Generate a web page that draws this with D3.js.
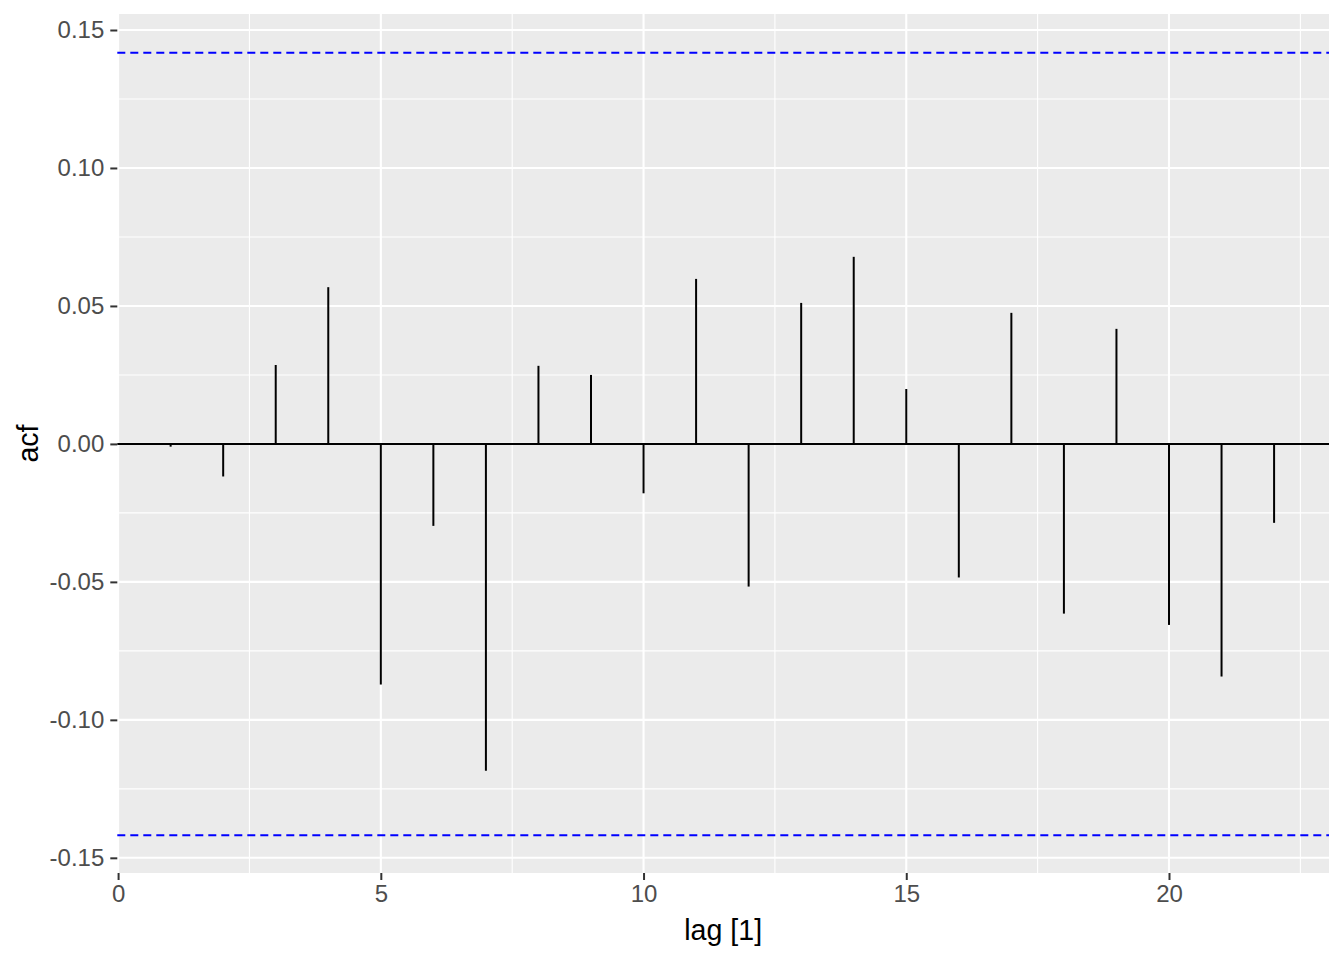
<!DOCTYPE html>
<html>
<head>
<meta charset="utf-8">
<script src="https://cdn.jsdelivr.net/npm/d3@7"></script>
<style>
  html, body { margin: 0; padding: 0; background: #ffffff; }
  svg { display: block; font-family: "Liberation Sans", Arial, sans-serif; }
</style>
</head>
<body>
<svg id="chart" width="1344" height="960"></svg>
<script>
// ---- data ----
const lags = [1, 2, 3, 4, 5, 6, 7, 8, 9, 10, 11, 12, 13, 14, 15, 16, 17, 18, 19, 20, 21, 22];
const acfValues = [-0.001, -0.0118, 0.0286, 0.0568, -0.0872, -0.0297, -0.1184, 0.0283, 0.0250, -0.0179,
                   0.0598, -0.0517, 0.0511, 0.0678, 0.0199, -0.0484, 0.0475, -0.0615, 0.0417, -0.0656,
                   -0.0843, -0.0286];
const ciBound = 0.1418;
const xTicks = [0, 5, 10, 15, 20];
const xMinor = [2.5, 7.5, 12.5, 17.5, 22.5];
const yTicks = [-0.15, -0.10, -0.05, 0.00, 0.05, 0.10, 0.15];
const yMinor = [-0.125, -0.075, -0.025, 0.025, 0.075, 0.125];
const xTitle = "lag [1]";
const yTitle = "acf";

// ---- layout ----
const svg = d3.select("#chart");
const panel = { left: 117.3, right: 1329, top: 14, bottom: 873 };

const x = d3.scaleLinear().domain([-0.015, 23.045]).range([panel.left, panel.right]);
const y = d3.scaleLinear().domain([-0.1555, 0.1558]).range([panel.bottom, panel.top]);

// panel background
svg.append("rect")
  .attr("x", panel.left).attr("y", panel.top)
  .attr("width", panel.right - panel.left).attr("height", panel.bottom - panel.top)
  .attr("fill", "#EBEBEB");

const grid = svg.append("g");
// minor grid
grid.selectAll("line.ymin").data(yMinor).enter().append("line")
  .attr("x1", panel.left).attr("x2", panel.right)
  .attr("y1", d => y(d)).attr("y2", d => y(d))
  .attr("stroke", "#ffffff").attr("stroke-width", 1.1);
grid.selectAll("line.xmin").data(xMinor).enter().append("line")
  .attr("y1", panel.top).attr("y2", panel.bottom)
  .attr("x1", d => x(d)).attr("x2", d => x(d))
  .attr("stroke", "#ffffff").attr("stroke-width", 1.1);
// major grid
grid.selectAll("line.ymaj").data(yTicks).enter().append("line")
  .attr("x1", panel.left).attr("x2", panel.right)
  .attr("y1", d => y(d)).attr("y2", d => y(d))
  .attr("stroke", "#ffffff").attr("stroke-width", 2.1);
grid.selectAll("line.xmaj").data(xTicks).enter().append("line")
  .attr("y1", panel.top).attr("y2", panel.bottom)
  .attr("x1", d => x(d)).attr("x2", d => x(d))
  .attr("stroke", "#ffffff").attr("stroke-width", 2.1);

// confidence bounds
svg.selectAll("line.ci").data([ciBound, -ciBound]).enter().append("line")
  .attr("x1", panel.left).attr("x2", panel.right)
  .attr("y1", d => y(d)).attr("y2", d => y(d))
  .attr("stroke", "#0000FF").attr("stroke-width", 2)
  .attr("stroke-dasharray", "8,5");

// zero line
svg.append("line")
  .attr("x1", panel.left).attr("x2", panel.right)
  .attr("y1", y(0)).attr("y2", y(0))
  .attr("stroke", "#000000").attr("stroke-width", 2);

// segments
svg.selectAll("line.seg").data(lags.map((l, i) => ({ lag: l, v: acfValues[i] }))).enter().append("line")
  .attr("x1", d => x(d.lag)).attr("x2", d => x(d.lag))
  .attr("y1", y(0)).attr("y2", d => y(d.v))
  .attr("stroke", "#000000").attr("stroke-width", 2);

// axes
const loc = d3.formatLocale({ decimal: ".", thousands: ",", grouping: [3], currency: ["", ""], minus: "-" });
const fmt = loc.format(".2f");
const yAxis = svg.append("g")
  .attr("transform", `translate(${panel.left},0)`)
  .call(d3.axisLeft(y).tickValues(yTicks).tickFormat(fmt).tickSize(7).tickPadding(6));
const xAxis = svg.append("g")
  .attr("transform", `translate(0,${panel.bottom})`)
  .call(d3.axisBottom(x).tickValues(xTicks).tickFormat(loc.format("d")).tickSize(7).tickPadding(5));

[yAxis, xAxis].forEach(a => {
  a.select(".domain").remove();
  a.selectAll(".tick line").attr("stroke", "#333333").attr("stroke-width", 2);
  a.selectAll(".tick text")
    .attr("fill", "#4D4D4D")
    .style("font-size", "24px")
    .style("font-family", "'Liberation Sans', Arial, sans-serif");
});

// titles
svg.append("text")
  .attr("x", (panel.left + panel.right) / 2).attr("y", 940)
  .attr("text-anchor", "middle")
  .style("font-size", "28.6px")
  .attr("fill", "#000000")
  .text(xTitle);

svg.append("text")
  .attr("transform", `translate(37.5,${(panel.top + panel.bottom) / 2}) rotate(-90)`)
  .attr("text-anchor", "middle")
  .style("font-size", "28.6px")
  .attr("fill", "#000000")
  .text(yTitle);
</script>
</body>
</html>
